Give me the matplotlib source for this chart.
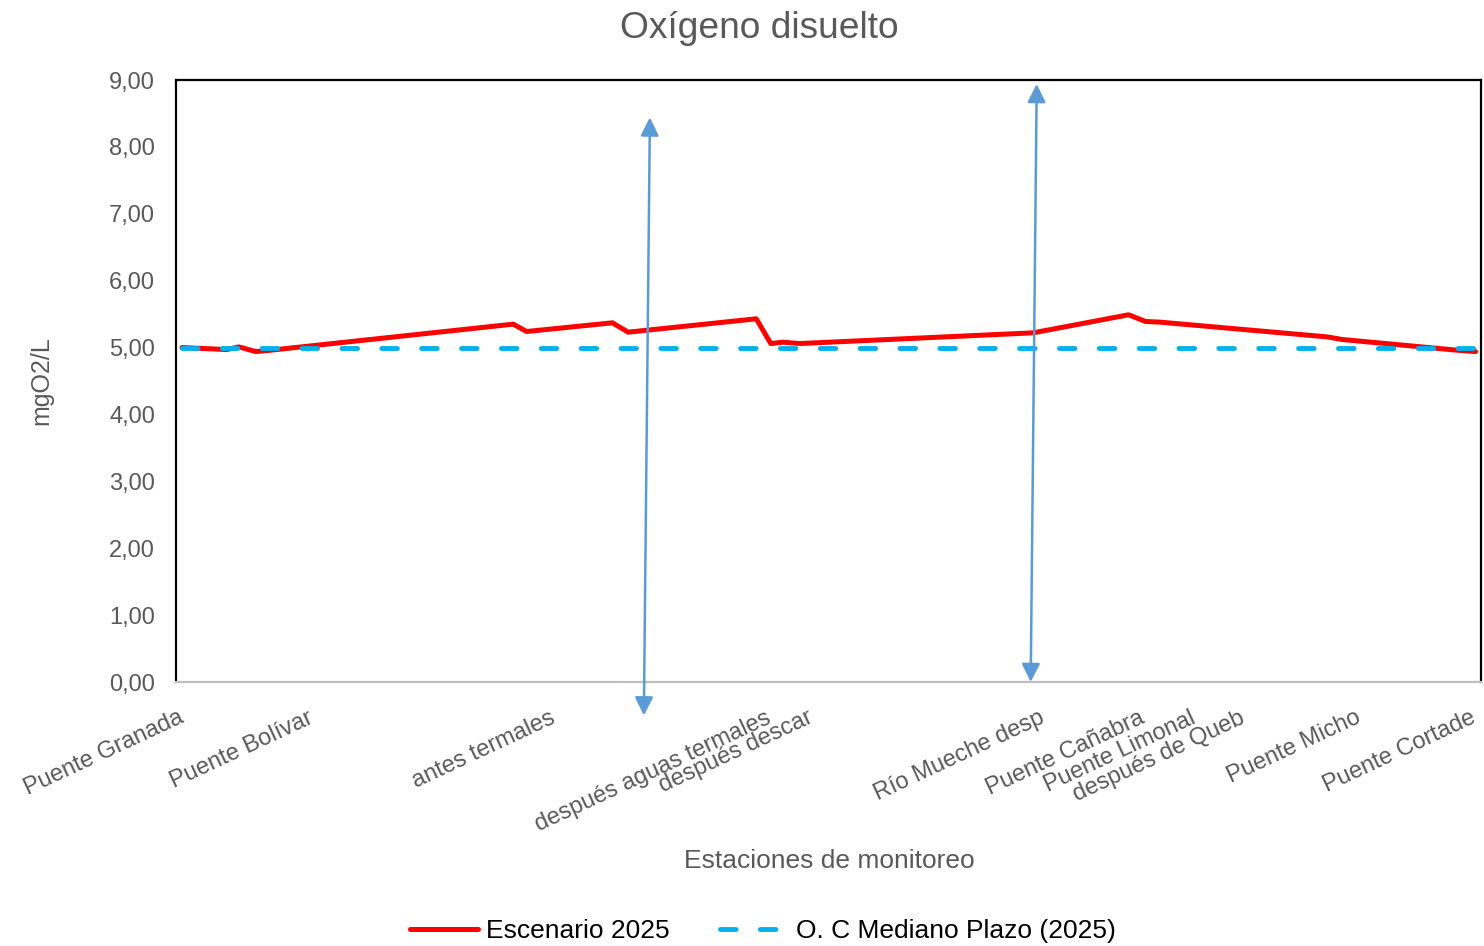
import matplotlib
matplotlib.use("Agg")
import matplotlib.pyplot as plt

plt.rcParams['font.family'] = ['Liberation Sans', 'DejaVu Sans']

# ---- data ----
estaciones = ["Puente Granada", "Puente Bolívar", "antes termales",
              "después aguas termales", "después descar", "Río Mueche desp",
              "Puente Cañabra", "Puente Limonal", "después de Queb",
              "Puente Micho", "Puente Cortade"]
estaciones_pos = [0.0, 10.7, 30.8, 48.6, 52.1, 71.2, 79.5, 83.7, 87.8, 97.4, 106.9]

escenario_x = [0.0, 3.7, 4.7, 6.1, 7.3, 27.4, 28.5, 35.6, 36.9, 47.5, 48.7,
               49.7, 51.1, 70.4, 78.3, 79.7, 80.9, 94.7, 96.0, 105.5, 107.0]
escenario_2025 = [5.00, 4.97, 5.01, 4.94, 4.96, 5.35, 5.24, 5.37, 5.23, 5.43, 5.06,
                  5.08, 5.06, 5.22, 5.49, 5.39, 5.38, 5.16, 5.12, 4.96, 4.94]

objetivo_x = [0.0, 107.0]
objetivo_mediano = [5.00, 5.00]

yticks = [0, 1, 2, 3, 4, 5, 6, 7, 8, 9]

# annotation arrows (data coords: start, end)
flecha1 = [(38.2, -0.50), (38.7, 8.44)]
flecha2 = [(70.2, 0.00), (70.7, 8.94)]

# ---- figure ----
W, H = 1484, 946
fig = plt.figure(figsize=(W / 100, H / 100), dpi=100)
ax = fig.add_axes([176 / W, (H - 682) / H, (1481 - 176) / W, (682 - 80) / H])

gray = '#595959'

l1, = ax.plot(escenario_x, escenario_2025, color='#FF0000', lw=3.6,
              solid_joinstyle='round', solid_capstyle='round',
              label='Escenario 2025', zorder=3)
l2, = ax.plot(objetivo_x, objetivo_mediano, color='#00B0F0', lw=3.5,
              linestyle=(0, (3.2, 5.0)), dash_capstyle='round',
              label='O. C Mediano Plazo (2025)', zorder=4)

ax.set_xlim(-0.5, 107.45)
ax.set_ylim(0, 9)
ax.set_yticks(yticks)
ax.set_yticklabels([f"{v:.2f}".replace('.', ',') for v in yticks],
                   fontsize=17, color=gray)
ax.tick_params(axis='y', length=0, pad=15)

ax.set_xticks(estaciones_pos)
ax.set_xticklabels(estaciones, rotation=25, ha='right', va='center',
                   rotation_mode='anchor', fontsize=17, color=gray)
ax.tick_params(axis='x', length=0, pad=25)

for s in ['top', 'left', 'right']:
    ax.spines[s].set_color('black')
    ax.spines[s].set_linewidth(1.6)
ax.spines['bottom'].set_color('#BFBFBF')
ax.spines['bottom'].set_linewidth(1.6)

ax.set_ylabel('mgO2/L', fontsize=18, color=gray)
ax.yaxis.set_label_coords((53 - 176) / (1481 - 176), (682 - 381) / (682 - 80))
ax.set_xlabel('Estaciones de monitoreo', fontsize=19, color=gray, va='center')
ax.xaxis.set_label_coords((829 - 176) / (1481 - 176), (682 - 861) / (682 - 80))

fig.text(759 / W, 1 - 29 / H, 'Oxígeno disuelto', ha='center', va='center',
         fontsize=26.7, color=gray)

arrow_color = '#5B9BD5'
for (x0, y0), (x1, y1) in (flecha1, flecha2):
    ax.annotate('', xy=(x1, y1), xytext=(x0, y0), annotation_clip=False,
                arrowprops=dict(arrowstyle='<|-|>,head_length=1.1,head_width=0.55',
                                color=arrow_color, lw=1.8, shrinkA=0, shrinkB=0,
                                mutation_scale=10), zorder=5)

fig.legend(handles=[l1, l2], loc='center', bbox_to_anchor=(763 / W, 15 / H),
           ncol=2, frameon=False, fontsize=19, handlelength=2.6,
           handletextpad=0.3, columnspacing=1.9, labelcolor='black')

fig.savefig('out.png', dpi=100, facecolor='white')
